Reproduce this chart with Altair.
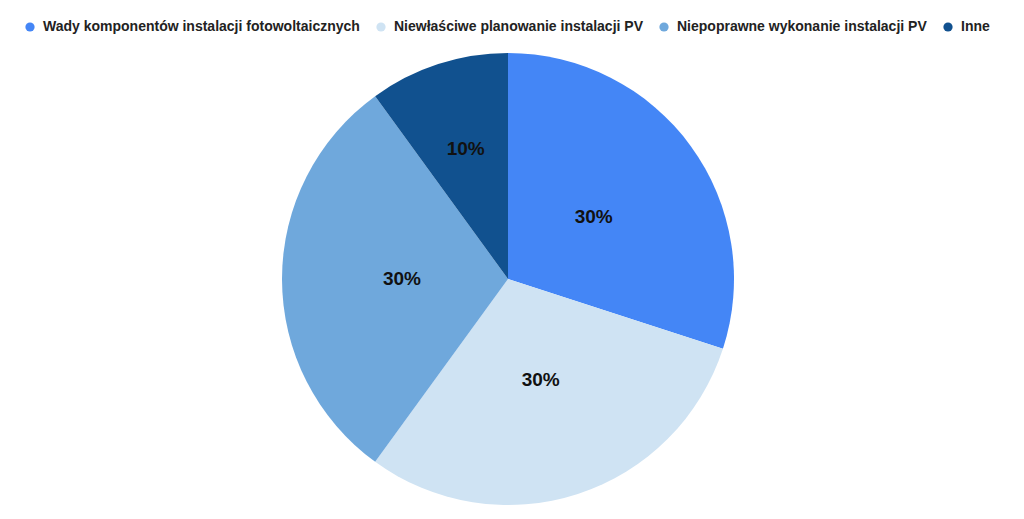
import math
import pandas as pd
import altair as alt

categories = [
    "Wady komponentów instalacji fotowoltaicznych",
    "Niewłaściwe planowanie instalacji PV",
    "Niepoprawne wykonanie instalacji PV",
    "Inne",
]
shares = [30, 30, 30, 10]
colors = ["#4486F6", "#CFE3F3", "#6FA8DC", "#11518F"]

df = pd.DataFrame({"cat": categories, "value": shares, "order": range(len(categories))})
df["label"] = df["value"].map("{}%".format)

FONT = "Liberation Sans"
CX, CY = 500, 271

pie = alt.Chart(df).mark_arc(outerRadius=226).encode(
    theta=alt.Theta("value:Q", stack=True),
    order=alt.Order("order:Q"),
    x=alt.value(CX),
    y=alt.value(CY),
    color=alt.Color(
        "cat:N",
        sort=categories,
        scale=alt.Scale(domain=categories, range=colors),
        legend=alt.Legend(
            title=None,
            orient="none",
            direction="horizontal",
            legendX=15,
            legendY=12,
            symbolType="circle",
            symbolSize=85,
            labelFont=FONT,
            labelFontSize=14,
            labelFontWeight="bold",
            labelColor="#222222",
            labelOffset=6,
            columnPadding=14,
            labelLimit=450,
        ),
    ),
)

# labels placed at each slice's mid angle; the small slice's label sits further out
labels = alt.Chart(df).mark_text(font=FONT, fontSize=19, fontWeight="bold", color="#111111").transform_window(
    cum="sum(value)", sort=[alt.SortField("order")]
).transform_joinaggregate(
    total="sum(value)"
).transform_calculate(
    mid="(datum.cum - datum.value / 2) / datum.total",
    r="datum.value < 15 ? 137 : 106",
).encode(
    theta=alt.Theta("mid:Q", stack=None, scale=alt.Scale(domain=[0, 1], range=[0, 2 * math.pi])),
    radius=alt.Radius("r:Q", scale=None),
    x=alt.value(CX),
    y=alt.value(CY),
    text="label:N",
)

chart = (
    alt.layer(pie, labels)
    .resolve_scale(theta="independent")
    .properties(width=1008, height=503, autosize=alt.AutoSizeParams(type="none"), padding=0)
    .configure_view(stroke=None)
)

chart.save("out.html", embed_options={"renderer": "svg", "actions": False})
